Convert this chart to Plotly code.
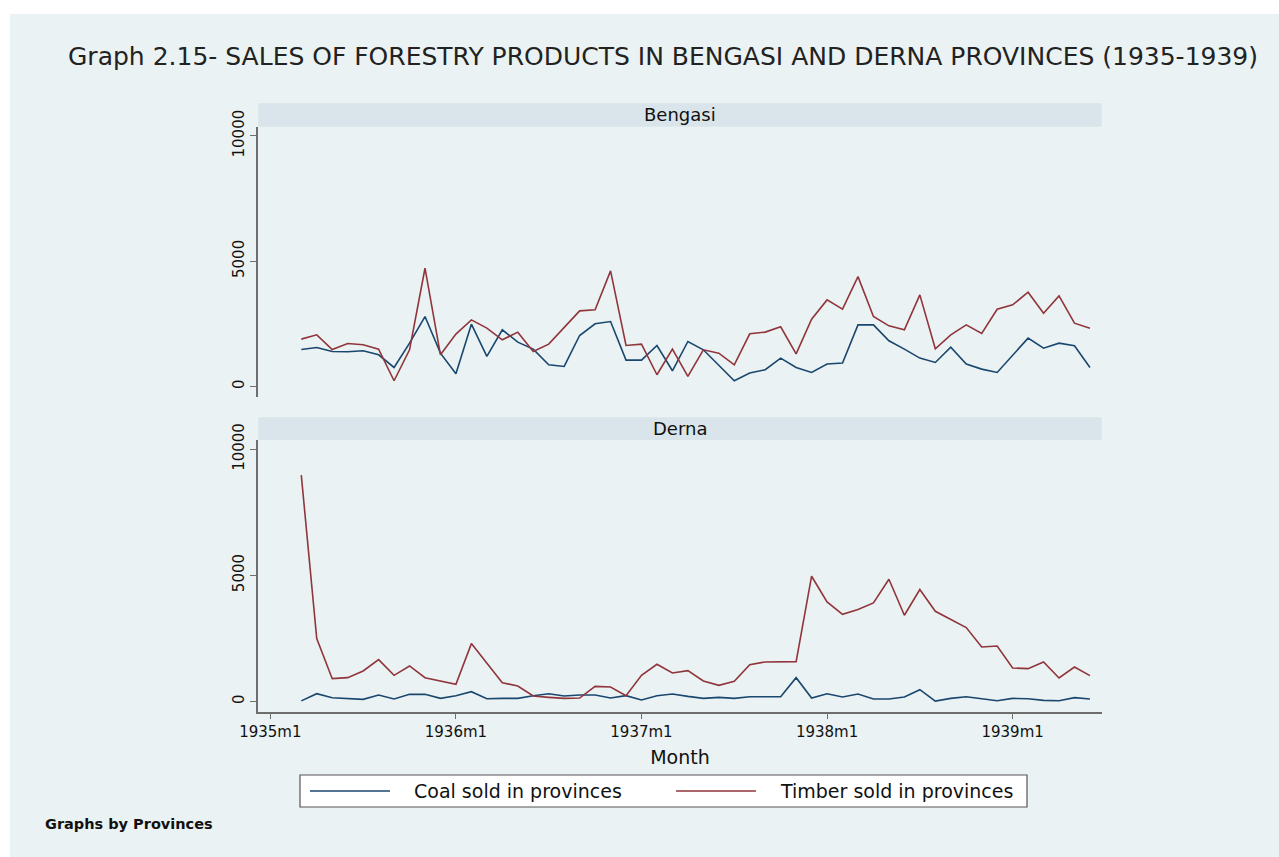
import plotly.graph_objects as go

# ---------------- data ----------------
months = [f"{y}m{m}" for y in range(1935, 1940) for m in range(1, 13)
          if not (y == 1935 and m < 3) and not (y == 1939 and m > 6)]

bengasi_coal = [1475, 1554, 1395, 1382, 1422, 1263, 757, 1727, 2789, 1329, 506, 2485,
                1196, 2259, 1767, 1488, 864, 797,
                2032, 2498, 2590, 1050, 1050, 1634, 625, 1793, 1462, 864, 227, 534,
                665, 1130, 757, 558, 892,
                932, 2458, 2458, 1820, 1488, 1130, 957, 1568, 892, 691, 558, 1263,
                1927, 1528, 1727, 1621, 757]
bengasi_timber = [1888, 2060, 1475, 1714, 1661, 1488, 227, 1462, 4717, 1263, 2088, 2657,
                  2325, 1860, 2167, 1395, 1688, 2350,
                  3016, 3056, 4610, 1634, 1688, 466, 1488, 400, 1462, 1329, 864, 2100,
                  2167, 2378, 1302, 2684, 3454,
                  3082, 4383, 2789, 2418, 2259, 3653, 1502, 2060, 2458, 2112, 3082, 3255,
                  3761, 2924, 3613, 2525, 2325]
derna_coal = [20, 304, 146, 119, 79, 251, 93, 278, 278, 119, 225, 384, 106, 119, 119, 225,
              304, 212,
              251, 251, 132, 225, 53, 225, 291, 198, 119, 159, 119, 185, 185, 185, 940,
              132, 304,
              172, 291, 93, 93, 172, 463, 13, 119, 185, 106, 26, 119, 106, 40, 26, 146, 93]
derna_timber = [8972, 2489, 900, 940, 1204, 1654, 1032, 1403, 940, 794, 675, 2290, 1495,
                741, 609, 212, 159, 120,
                132, 595, 569, 225, 1032, 1469, 1125, 1217, 807, 635, 794, 1456, 1562,
                1562, 1575, 4963, 3943,
                3454, 3639, 3904, 4843, 3414, 4434, 3573, 3242, 2925, 2157, 2197, 1323,
                1297, 1562, 926, 1363, 1019]

tick_labels = ["1935m1", "1936m1", "1937m1", "1938m1", "1939m1"]
y_ticks = [0, 5000, 10000]
series_names = ["Coal sold in provinces", "Timber sold in provinces"]
panels = ["Bengasi", "Derna"]


def month_index(label):
    y, m = label.split("m")
    return (int(y) - 1935) * 12 + int(m) - 1


x_vals = [month_index(s) for s in months]
tick_vals = [month_index(s) for s in tick_labels]

# ---------------- style ----------------
W, H = 1279, 857
BG = "#EAF2F3"
STRIP = "#D9E5EA"
COAL = "#1A476F"
TIMBER = "#90353B"
FONT = "DejaVu Sans"


def px_x(p):
    return p / W


def px_y(p):
    return 1 - p / H


x_dom = [px_x(258.3), px_x(1101.7)]
dom_b = [px_y(396.7), px_y(126.7)]
dom_d = [px_y(711.7), px_y(440.0)]
x_range = [-0.78, 53.76]
y_range = [-410, 10365]

fig = go.Figure()

for ax, (coal, timber) in zip(["", "2"], [(bengasi_coal, bengasi_timber),
                                         (derna_coal, derna_timber)]):
    fig.add_trace(go.Scatter(x=x_vals, y=coal, mode="lines", name=series_names[0],
                             line=dict(color=COAL, width=1.6),
                             xaxis="x" + ax, yaxis="y" + ax, showlegend=False))
    fig.add_trace(go.Scatter(x=x_vals, y=timber, mode="lines", name=series_names[1],
                             line=dict(color=TIMBER, width=1.6),
                             xaxis="x" + ax, yaxis="y" + ax, showlegend=False))

yaxis_common = dict(range=y_range, tickvals=y_ticks, ticktext=[str(v) for v in y_ticks],
                    showgrid=True, gridcolor=BG, gridwidth=1.2, zeroline=False,
                    showline=True, linecolor="#6E6E6E", linewidth=1.5,
                    ticks="outside", ticklen=7, tickcolor="#6E6E6E", tickwidth=1.3,
                    tickangle=-90, tickfont=dict(family=FONT, size=15, color="#111"),
                    automargin=False, fixedrange=True)

fig.update_layout(
    width=W, height=H,
    autosize=False,
    margin=dict(l=0, r=0, t=0, b=0, pad=0, autoexpand=False),
    paper_bgcolor="white",
    plot_bgcolor="white",
    showlegend=False,
    xaxis=dict(domain=x_dom, range=x_range, anchor="y", showticklabels=False,
               showgrid=False, zeroline=False, showline=False, ticks="",
               automargin=False),
    yaxis=dict(domain=dom_b, anchor="x", **yaxis_common),
    xaxis2=dict(domain=x_dom, range=x_range, anchor="y2", tickvals=tick_vals,
                ticktext=tick_labels, showgrid=False, zeroline=False,
                showline=True, linecolor="#6E6E6E", linewidth=1.5,
                ticks="outside", ticklen=6, tickcolor="#6E6E6E", tickwidth=1.3,
                tickfont=dict(family=FONT, size=15, color="#111"),
                automargin=False,
                title=dict(text="Month", font=dict(family=FONT, size=19, color="#111"),
                           standoff=10)),
    yaxis2=dict(domain=dom_d, anchor="x2", **yaxis_common),
)

shapes = []
# outer bluish background (white border at top and left)
shapes.append(dict(type="rect", xref="paper", yref="paper", layer="below",
                   x0=px_x(10), x1=1, y0=0, y1=px_y(14),
                   fillcolor=BG, line=dict(width=0)))
# panel strips
for top, bot in [(103.3, 126.7), (417.3, 440.0)]:
    shapes.append(dict(type="rect", xref="paper", yref="paper", layer="below",
                       x0=x_dom[0], x1=x_dom[1], y0=px_y(bot), y1=px_y(top),
                       fillcolor=STRIP, line=dict(width=0)))
# legend box
shapes.append(dict(type="rect", xref="paper", yref="paper",
                   x0=px_x(300), x1=px_x(1027), y0=px_y(807), y1=px_y(775),
                   fillcolor="white", line=dict(color="#555", width=1.2)))
shapes.append(dict(type="line", xref="paper", yref="paper",
                   x0=px_x(310), x1=px_x(390), y0=px_y(791), y1=px_y(791),
                   line=dict(color=COAL, width=1.6)))
shapes.append(dict(type="line", xref="paper", yref="paper",
                   x0=px_x(676), x1=px_x(756), y0=px_y(791), y1=px_y(791),
                   line=dict(color=TIMBER, width=1.6)))
fig.update_layout(shapes=shapes)

ann = []
ann.append(dict(text="Graph 2.15- SALES OF FORESTRY PRODUCTS IN BENGASI AND DERNA PROVINCES (1935-1939)",
                xref="paper", yref="paper", x=px_x(663), y=px_y(57), showarrow=False,
                xanchor="center", yanchor="middle",
                font=dict(family=FONT, size=25, color="#222")))
for name, yc in zip(panels, [114.5, 428.5]):
    ann.append(dict(text=name, xref="paper", yref="paper", x=(x_dom[0] + x_dom[1]) / 2,
                    y=px_y(yc), showarrow=False, xanchor="center", yanchor="middle",
                    font=dict(family=FONT, size=18, color="#111")))
ann.append(dict(text=series_names[0], xref="paper", yref="paper", x=px_x(412), y=px_y(791),
                showarrow=False, xanchor="left", yanchor="middle",
                font=dict(family=FONT, size=19, color="#111")))
ann.append(dict(text=series_names[1], xref="paper", yref="paper", x=px_x(778), y=px_y(791),
                showarrow=False, xanchor="left", yanchor="middle",
                font=dict(family=FONT, size=19, color="#111")))
ann.append(dict(text="<b>Graphs by Provinces</b>", xref="paper", yref="paper", x=px_x(43),
                y=px_y(824), showarrow=False, xanchor="left", yanchor="middle",
                font=dict(family=FONT, size=14.5, color="#111")))
fig.update_layout(annotations=ann)

fig.write_html("out.html")
